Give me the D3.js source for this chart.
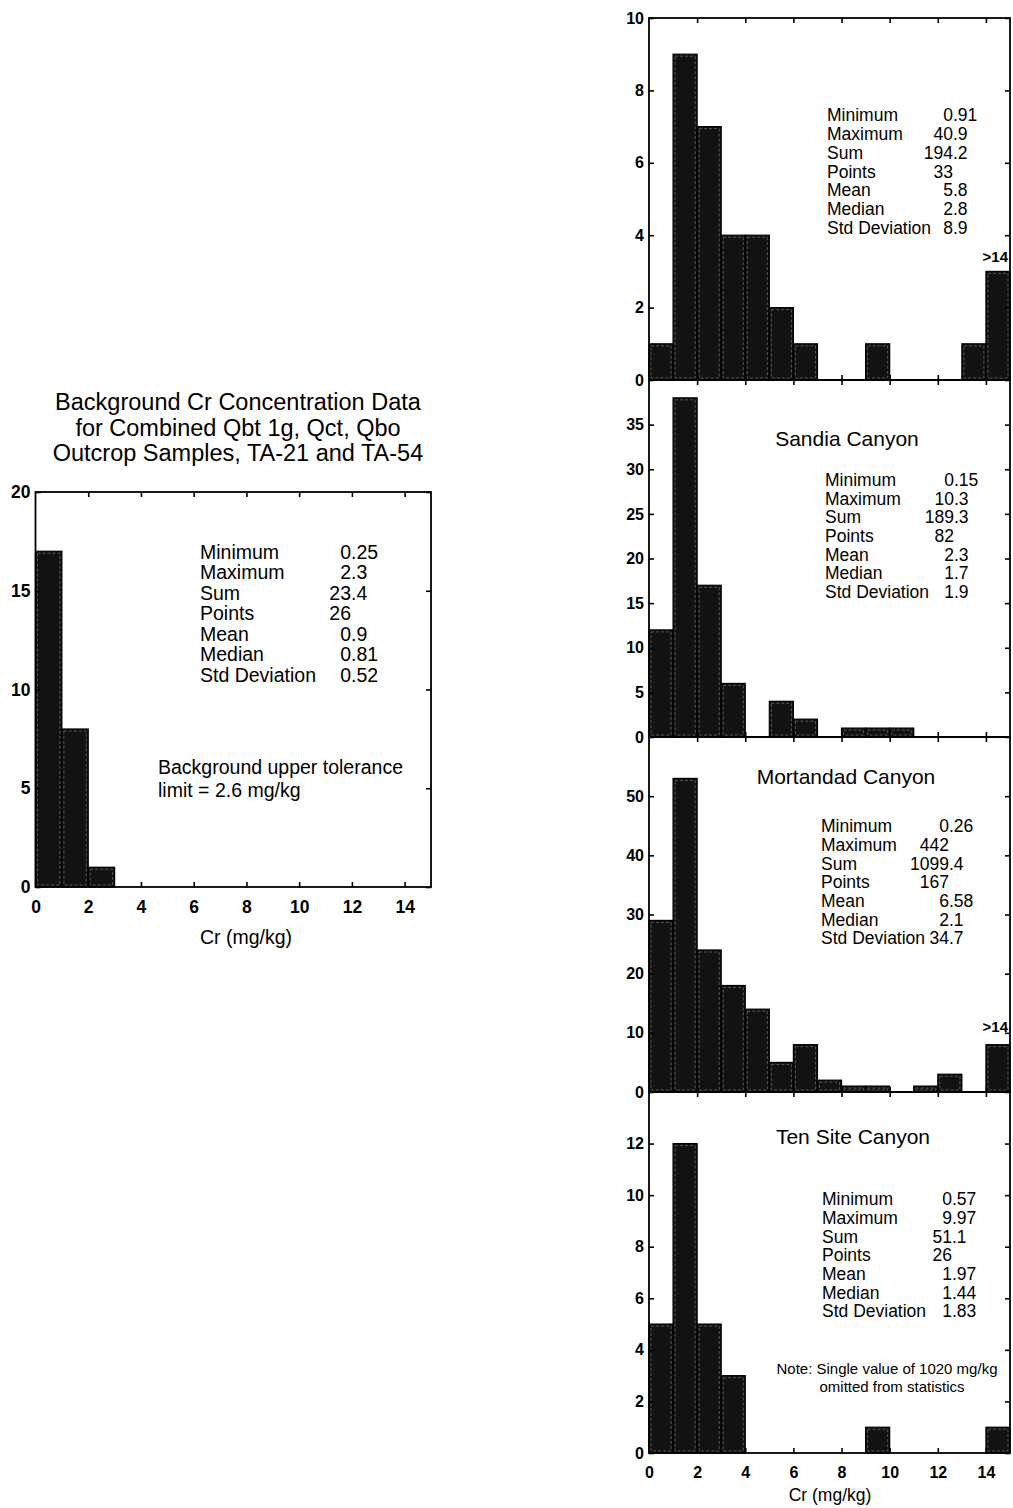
<!DOCTYPE html>
<html>
<head>
<meta charset="utf-8">
<script src="https://cdn.jsdelivr.net/npm/d3@7"></script>
<style>
  body { margin: 0; background: #fff; }
  svg { font-family: "Liberation Sans", Arial, Helvetica, sans-serif; }
</style>
</head>
<body>
<svg id="chart" width="1013" height="1508"></svg>
<script>
// bins are 1 mg/kg wide, last bin on the canyon plots holds everything >14
const binStarts = [0, 1, 2, 3, 4, 5, 6, 7, 8, 9, 10, 11, 12, 13, 14];
const xTicks = [0, 2, 4, 6, 8, 10, 12, 14];
const statLabels = ["Minimum", "Maximum", "Sum", "Points", "Mean", "Median", "Std Deviation"];

// background (left chart)
const bgCounts = [17, 8, 1, 0, 0, 0, 0, 0, 0, 0, 0, 0, 0, 0, 0];
const bgStats = ["0.25", "2.3", "23.4", "26", "0.9", "0.81", "0.52"];
const bgYTicks = [0, 5, 10, 15, 20];
const bgTitle = ["Background Cr Concentration Data", "for Combined Qbt 1g, Qct, Qbo", "Outcrop Samples, TA-21 and TA-54"];
const bgNote = ["Background upper tolerance", "limit = 2.6 mg/kg"];

// top right (untitled)
const topCounts = [1, 9, 7, 4, 4, 2, 1, 0, 0, 1, 0, 0, 0, 1, 3];
const topStats = ["0.91", "40.9", "194.2", "33", "5.8", "2.8", "8.9"];
const topYTicks = [0, 2, 4, 6, 8, 10];

const sandiaCounts = [12, 38, 17, 6, 0, 4, 2, 0, 1, 1, 1, 0, 0, 0, 0];
const sandiaStats = ["0.15", "10.3", "189.3", "82", "2.3", "1.7", "1.9"];
const sandiaYTicks = [0, 5, 10, 15, 20, 25, 30, 35];

const mortCounts = [29, 53, 24, 18, 14, 5, 8, 2, 1, 1, 0, 1, 3, 0, 8];
const mortStats = ["0.26", "442", "1099.4", "167", "6.58", "2.1", "34.7"];
const mortYTicks = [0, 10, 20, 30, 40, 50];

const tenCounts = [5, 12, 5, 3, 0, 0, 0, 0, 0, 1, 0, 0, 0, 0, 1];
const tenStats = ["0.57", "9.97", "51.1", "26", "1.97", "1.44", "1.83"];
const tenYTicks = [0, 2, 4, 6, 8, 10, 12];
const tenNote = ["Note: Single value of 1020 mg/kg", "omitted from statistics"];

const FONT = '"Liberation Sans", Arial, Helvetica, sans-serif';
const svg = d3.select("#chart");

function styleAxis(g, size) {
    g.attr("font-family", FONT).attr("font-size", size).attr("font-weight", "bold");
    g.select(".domain").remove();
    g.selectAll("line").attr("stroke", "#000").attr("stroke-width", 1.6);
    g.selectAll("text").attr("fill", "#000");
}

function drawHistogram(counts, yMax, yTicks, box, showXLabels, tickFont) {
    const x = d3.scaleLinear().domain([0, 15]).range([box.left, box.right]);
    const y = d3.scaleLinear().domain([0, yMax]).range([box.bottom, box.top]);

    const bins = binStarts.map((b, i) => ({ b: b, n: counts[i] })).filter(d => d.n > 0);
    const g = svg.append("g");
    g.selectAll("rect.bar")
        .data(bins)
        .join("rect")
        .attr("class", "bar")
        .attr("x", d => x(d.b))
        .attr("width", d => x(d.b + 1) - x(d.b))
        .attr("y", d => y(d.n))
        .attr("height", d => y(0) - y(d.n))
        .attr("fill", "#121212")
        .attr("stroke", "#000")
        .attr("stroke-width", 1.2)
    // light speckled inner edge, like the scanned bars
    g.selectAll("rect.edge")
        .data(bins)
        .join("rect")
        .attr("class", "edge")
        .attr("x", d => x(d.b) + 2)
        .attr("width", d => x(d.b + 1) - x(d.b) - 4)
        .attr("y", d => y(d.n) + 2)
        .attr("height", d => Math.max(0, y(0) - y(d.n) - 4))
        .attr("fill", "none")
        .attr("stroke", "#8c8c8c")
        .attr("stroke-width", 0.8)
        .attr("stroke-dasharray", "3 2")
        .attr("opacity", 0.7)

    svg.append("g")
        .attr("transform", `translate(${box.left},0)`)
        .call(d3.axisLeft(y).tickValues(yTicks).tickSize(-5).tickPadding(5).tickFormat(d3.format("d")))
        .call(a => styleAxis(a, tickFont));
    svg.append("g")
        .attr("transform", `translate(${box.right},0)`)
        .call(d3.axisRight(y).tickValues(yTicks).tickSize(-5).tickFormat(""))
        .call(a => styleAxis(a, tickFont));
    svg.append("g")
        .attr("transform", `translate(0,${box.top})`)
        .call(d3.axisTop(x).tickValues(xTicks.slice(1)).tickSize(-5).tickFormat(""))
        .call(a => styleAxis(a, tickFont));
    const xb = d3.axisBottom(x).tickValues(xTicks).tickSize(-5).tickPadding(14)
    if (!showXLabels) xb.tickFormat("")
    svg.append("g")
        .attr("transform", `translate(0,${box.bottom})`)
        .call(xb)
        .call(a => styleAxis(a, tickFont))
        .call(a => a.selectAll(".tick").filter(d => d === 0).select("line").remove());

    svg.append("rect")
        .attr("x", box.left)
        .attr("y", box.top)
        .attr("width", box.right - box.left)
        .attr("height", box.bottom - box.top)
        .attr("fill", "none")
        .attr("stroke", "#000")
        .attr("stroke-width", 1.8)
    return { x, y };
}

// stat block: labels left aligned, values lined up on the decimal point
function drawStats(values, lx, decX, top, step, size) {
    const g = svg.append("g").attr("font-size", size).attr("fill", "#000");
    statLabels.forEach((lab, i) => {
        const yy = top + i * step;
        g.append("text").attr("x", lx).attr("y", yy).attr("dy", "0.35em").text(lab);
        const parts = values[i].split(".");
        g.append("text").attr("x", decX).attr("y", yy).attr("dy", "0.35em")
            .attr("text-anchor", "end").text(parts[0]);
        if (parts.length > 1) {
            g.append("text").attr("x", decX).attr("y", yy).attr("dy", "0.35em")
                .text("." + parts[1]);
        }
    });
}

function label(txt, x, y, size, anchor = "middle", weight = "normal") {
    svg.append("text")
        .attr("x", x)
        .attr("y", y)
        .attr("dy", "0.35em")
        .attr("text-anchor", anchor)
        .attr("font-size", size)
        .attr("font-weight", weight)
        .attr("fill", "#000")
        .text(txt);
}

// ---- left: background data ----
drawHistogram(bgCounts, 20, bgYTicks, { left: 35.5, right: 431, top: 492, bottom: 887 }, true, 17.5);
bgTitle.forEach((t, i) => label(t, 238, 402 + i * 25.5, 23.5));
drawStats(bgStats, 200, 351, 552, 20.5, 19.5);
label(bgNote[0], 158, 767, 19.5, "start");
label(bgNote[1], 158, 790, 19.5, "start");
label("Cr (mg/kg)", 246, 937, 19.5);

// ---- right: stacked canyon panels ----
const R = { left: 649, right: 1010 };

drawHistogram(topCounts, 10, topYTicks, { ...R, top: 18, bottom: 380 }, false, 16);
drawStats(topStats, 827, 953, 115, 18.8, 17.5);
label(">14", 1008, 257, 15, "end", "bold");

drawHistogram(sandiaCounts, 40, sandiaYTicks, { ...R, top: 380, bottom: 737 }, false, 16);
label("Sandia Canyon", 847, 439, 21);
drawStats(sandiaStats, 825, 954, 480, 18.6, 17.5);

drawHistogram(mortCounts, 60, mortYTicks, { ...R, top: 737, bottom: 1092 }, false, 16);
label("Mortandad Canyon", 846, 777, 21);
drawStats(mortStats, 821, 949, 826, 18.7, 17.5);
label(">14", 1008, 1027, 15, "end", "bold");

drawHistogram(tenCounts, 14, tenYTicks, { ...R, top: 1092, bottom: 1453 }, true, 16);
label("Ten Site Canyon", 853, 1137, 21);
drawStats(tenStats, 822, 952, 1199, 18.7, 17.5);
label(tenNote[0], 887, 1369, 15);
label(tenNote[1], 892, 1387, 15);
label("Cr (mg/kg)", 830, 1495, 17.5);
</script>
</body>
</html>
